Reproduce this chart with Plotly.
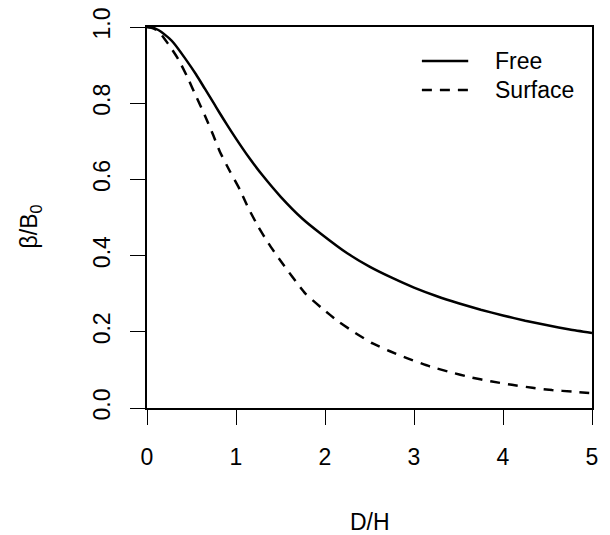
import plotly.graph_objects as go

# Values
free_x = [0.0, 0.05, 0.1, 0.15, 0.2, 0.25, 0.3, 0.43, 0.55, 0.65, 0.75, 0.82, 0.9, 1.0, 1.15,
          1.3, 1.5, 1.75, 1.95, 2.25, 2.5, 2.75, 3.0, 3.25, 3.5, 3.75, 4.0, 4.25, 4.5, 4.75, 5.0]
free_y = [1.0, 0.999, 0.995, 0.989, 0.98, 0.97, 0.958, 0.917, 0.876, 0.838, 0.80, 0.773,
          0.743, 0.707, 0.656, 0.610, 0.555, 0.496, 0.458, 0.406, 0.371, 0.342, 0.316,
          0.294, 0.275, 0.258, 0.243, 0.229, 0.217, 0.206, 0.197]

surf_x = [0.0, 0.05, 0.1, 0.15, 0.2, 0.27, 0.35, 0.447, 0.54, 0.65, 0.746, 0.82, 0.934, 1.046,
          1.14, 1.25, 1.365, 1.48, 1.777, 1.965, 2.15, 2.34, 2.53, 2.73, 2.92, 3.18, 3.41,
          3.63, 3.86, 4.10, 4.33, 4.55, 4.78, 5.0]
surf_y = [1.0, 0.998, 0.993, 0.983, 0.968, 0.945, 0.916, 0.872, 0.824, 0.768, 0.715, 0.672,
          0.62, 0.572, 0.524, 0.476, 0.432, 0.393, 0.301, 0.262, 0.227, 0.197, 0.17, 0.149,
          0.131, 0.109, 0.094, 0.081, 0.070, 0.061, 0.053, 0.047, 0.043, 0.039]

series_names = ["Free", "Surface"]
series_dash = ["solid", "10px,8px"]
x_ticks = [0, 1, 2, 3, 4, 5]
y_ticks = [0.0, 0.2, 0.4, 0.6, 0.8, 1.0]
y_tick_text = ["0.0", "0.2", "0.4", "0.6", "0.8", "1.0"]

FONT = "Liberation Sans, Arial, sans-serif"
FS = 23

fig = go.Figure()
fig.add_trace(go.Scatter(x=free_x, y=free_y, mode="lines", name=series_names[0],
                         showlegend=False,
                         line=dict(color="black", width=2.5, dash=series_dash[0],
                                   shape="spline", smoothing=0.5)))
fig.add_trace(go.Scatter(x=surf_x, y=surf_y, mode="lines", name=series_names[1],
                         showlegend=False,
                         line=dict(color="black", width=2.5, dash=series_dash[1],
                                   shape="spline", smoothing=0.5)))

axis_common = dict(showgrid=False, zeroline=False, showline=True, mirror=True,
                   linecolor="black", linewidth=2, ticks="outside", ticklen=15,
                   tickwidth=1, tickcolor="black", ticklabeloverflow="allow",
                   automargin=False,
                   tickfont=dict(family=FONT, size=FS, color="black"))

fig.update_xaxes(range=[0, 5], tickvals=x_ticks, ticklabelstandoff=12, **axis_common)
fig.update_yaxes(range=[0, 1], tickvals=y_ticks, ticktext=y_tick_text, tickangle=-90,
                 ticklabelstandoff=11, **axis_common)

# legend drawn like R's legend(): sample lines + labels, no box
PW, PH, X0, Y0 = 444.7, 381.0, 147.0, 408.0
def px(xp):
    return (xp - X0) / PW
def py(yp):
    return (Y0 - yp) / PH

shapes = []
annotations = []
for name, dash, ypix in zip(series_names, series_dash, [61, 90]):
    shapes.append(dict(type="line", xref="paper", yref="paper",
                       x0=px(421.7), x1=px(468), y0=py(ypix), y1=py(ypix),
                       line=dict(color="black", width=2.5, dash=dash)))
    annotations.append(dict(text=name, x=px(493), y=py(ypix), xref="paper", yref="paper",
                            xanchor="left", yanchor="middle", showarrow=False,
                            font=dict(family=FONT, size=FS, color="black")))

annotations.append(dict(text="D/H", x=0.5, y=py(521.7), xref="paper", yref="paper",
                        xanchor="center", yanchor="middle", showarrow=False,
                        font=dict(family=FONT, size=FS, color="black")))
annotations.append(dict(text="β/B<sub>0</sub>", x=px(30.5), y=py(226),
                        xref="paper", yref="paper", xanchor="center", yanchor="middle",
                        textangle=-90, showarrow=False,
                        font=dict(family=FONT, size=FS, color="black")))

fig.update_layout(
    width=610, height=535,
    margin=dict(l=139, r=26, t=19, b=135, autoexpand=False),
    paper_bgcolor="white", plot_bgcolor="white",
    showlegend=False,
    shapes=shapes,
    annotations=annotations,
)

fig.write_html("out.html")
